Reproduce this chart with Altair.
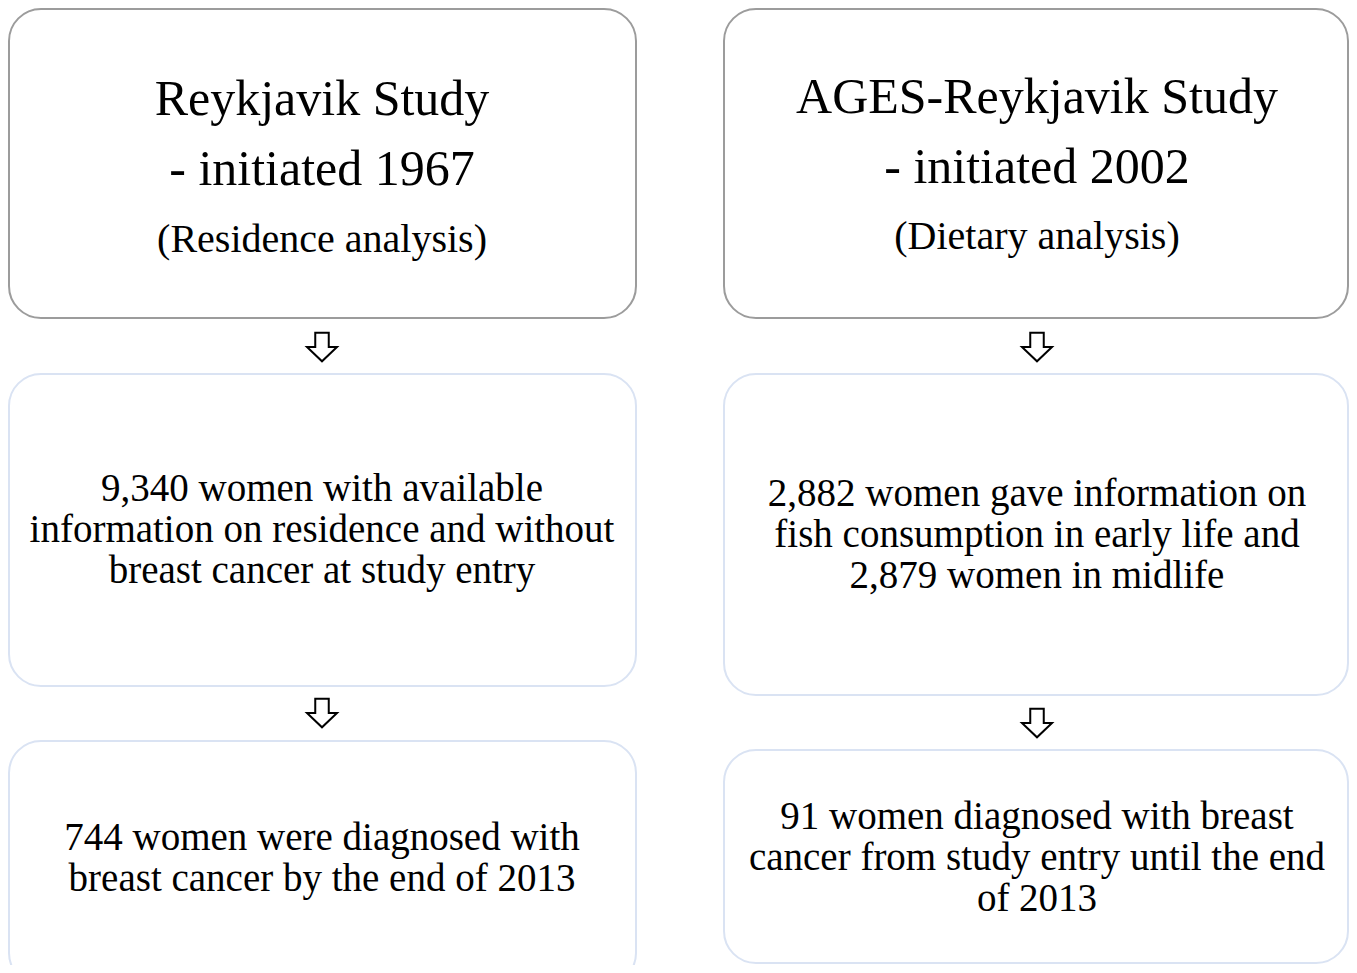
import altair as alt
import pandas as pd

# ---- content ----
title_lines = ["Reykjavik Study", "- initiated 1967", "AGES-Reykjavik Study", "- initiated 2002"]
subtitles = ["(Residence analysis)", "(Dietary analysis)"]
body_texts = [
    "9,340 women with available\ninformation on residence and without\nbreast cancer at study entry",
    "2,882 women gave information on\nfish consumption in early life and\n2,879 women in midlife",
    "744 women were diagnosed with\nbreast cancer by the end of 2013",
    "91 women diagnosed with breast\ncancer from study entry until the end\nof 2013",
]

# ---- layout (page pixels) ----
box_x = [9, 724, 9, 724, 9, 724]
box_x2 = [636, 1348, 636, 1348, 636, 1348]
box_y = [9, 9, 374, 374, 741, 750]
box_y2 = [318, 318, 686, 695, 985, 963]
box_kind = ["head", "head", "body", "body", "body", "body"]

title_x = [322, 322, 1037, 1037]
title_y = [100, 170, 98, 168]
sub_x = [322, 1037]
sub_y = [240, 237]
body_x = [322, 1037, 322, 1037]
body_y = [489, 494, 838, 817]   # first-line positions
arrow_x = [322, 1037, 322, 1037]
arrow_y = [347, 347, 713, 723]

W, H = 1341, 957
xs = alt.Scale(domain=[8, 8 + W], nice=False, zero=False)
ys = alt.Scale(domain=[8, 8 + H], nice=False, zero=False, reverse=True)

boxes = pd.DataFrame(dict(x=box_x, x2=box_x2, y=box_y, y2=box_y2, kind=box_kind))
titles = pd.DataFrame(dict(x=title_x, y=title_y, t=title_lines))
subs = pd.DataFrame(dict(x=sub_x, y=sub_y, t=subtitles))
bodies = pd.DataFrame(dict(x=body_x, y=body_y, t=body_texts))
arrows = pd.DataFrame(dict(x=arrow_x, y=arrow_y))

font = "Liberation Serif"

box_layer = alt.Chart(boxes).mark_rect(cornerRadius=32, fill="white", strokeWidth=2).encode(
    x=alt.X("x:Q", scale=xs, axis=None),
    x2="x2:Q",
    y=alt.Y("y:Q", scale=ys, axis=None),
    y2="y2:Q",
    stroke=alt.Color("kind:N", scale=alt.Scale(domain=["head", "body"], range=["#9c9c9c", "#dae3f3"]), legend=None),
)

title_layer = alt.Chart(titles).mark_text(font=font, fontSize=50, baseline="middle", align="center", color="black").encode(
    x=alt.X("x:Q", scale=xs, axis=None), y=alt.Y("y:Q", scale=ys, axis=None), text="t:N"
)
sub_layer = alt.Chart(subs).mark_text(font=font, fontSize=40, baseline="middle", align="center", color="black").encode(
    x=alt.X("x:Q", scale=xs, axis=None), y=alt.Y("y:Q", scale=ys, axis=None), text="t:N"
)
body_layer = alt.Chart(bodies).mark_text(font=font, fontSize=39, lineHeight=41, lineBreak="\n",
                                         baseline="middle", align="center", color="black").encode(
    x=alt.X("x:Q", scale=xs, axis=None), y=alt.Y("y:Q", scale=ys, axis=None), text="t:N"
)

arrow_path = "M -0.45 -0.95 L 0.45 -0.95 L 0.45 0 L 1 0 L 0 0.95 L -1 0 L -0.45 0 Z"
arrow_layer = alt.Chart(arrows).mark_point(shape=arrow_path, size=900, filled=True, fill="white",
                                           stroke="black", strokeWidth=2, opacity=1).encode(
    x=alt.X("x:Q", scale=xs, axis=None), y=alt.Y("y:Q", scale=ys, axis=None)
)

chart = alt.layer(box_layer, arrow_layer, title_layer, sub_layer, body_layer).properties(
    width=W, height=H, autosize=alt.AutoSizeParams(type="none"), padding=0
).configure_view(stroke=None)

chart.save("out.html", embed_options={"renderer": "svg", "actions": False})
